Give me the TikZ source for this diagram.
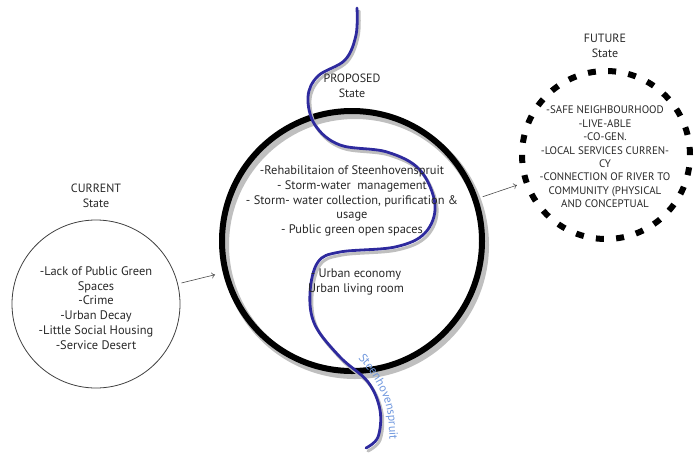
\documentclass[tikz,border=0pt]{standalone}
\usepackage{fontspec}
\setmainfont{PT Sans}
\usetikzlibrary{decorations.text, arrows.meta}
\definecolor{river}{RGB}{46,42,158}
\definecolor{rivertext}{RGB}{112,152,222}
\definecolor{txt}{RGB}{40,40,40}
\begin{document}
\begin{tikzpicture}[x=1pt,y=-1pt,
  statebox/.style={circle, inner sep=0pt, outer sep=0pt},
  titletext/.style={text=txt, font=\fontsize{12}{15}\selectfont, align=center, inner sep=0pt},
  bodytext/.style={text=txt, font=\fontsize{12.4}{14.8}\selectfont, align=center, inner sep=0pt},
  futuretext/.style={text=txt, font=\fontsize{10.9}{13.4}\selectfont, align=center, inner sep=0pt},
  flowarrow/.style={draw=black!70, line width=0.6pt, -{To[length=3.5pt,width=6pt]}},
  riverline/.style={draw=river, line width=2.8pt, line cap=round}
]
\useasboundingbox (0,0) rectangle (696,453);

% current state
\node[statebox, draw=black!75, line width=0.8pt, minimum size=168pt] (current) at (96,304) {};
\node[titletext] (currenttitle) at (96,196) {CURRENT\\State};
\node[bodytext] (currenttext) at (96,308) {-Lack of Public Green\\Spaces\\-Crime\\-Urban Decay\\-Little Social Housing\\-Service Desert};

% proposed state
\draw[black!25, line width=8pt] (355,245) circle (130);
\node[statebox, draw=black, line width=6pt, minimum size=260pt] (proposed) at (352,241) {};

% river
\draw[black!25, line width=3pt, line cap=round] plot[smooth, tension=0.6] coordinates {
  (359,11) (358,37) (347,62) (320,79) (310,100) (317,128) (342,148) (389,155) (422,173) (437,208)
  (427,236) (397,250) (342,255) (320,265) (312,296) (317,328) (342,360) (370,385) (382,413) (380,440) (368,451)};
\draw[riverline] plot[smooth, tension=0.6] coordinates {
  (357,8) (356,35) (345,60) (318,76) (308,97) (315,125) (340,145) (387,152) (420,170) (435,205)
  (425,233) (395,247) (340,252) (318,262) (310,293) (315,325) (340,357) (368,382) (380,410) (378,437) (366,448)};

\node[titletext] (proposedtitle) at (352,86) {PROPOSED\\State};
\node[bodytext] (proposedtext) at (352,201) {-Rehabilitaion of Steenhovenspruit\\- Storm-water\ \ management\\- Storm- water collection, purification \&\\usage\\- Public green open spaces};
\node[bodytext] (urbantext) at (356,282) {- Urban economy\\Urban living room};

\path[decorate, decoration={text along path, text align=center,
  text={|\color{rivertext}\fontsize{12}{12}\selectfont|Steenhovenspruit}}]
  plot[smooth] coordinates {(350,349) (368,370) (381,392) (388,415) (390,452)};

% future state
\node[statebox, draw=black, line width=6pt, dash pattern=on 8pt off 12.3pt, minimum size=168pt] (future) at (606,155) {};
\node[titletext] (futuretitle) at (605,46) {FUTURE\\State};
\node[futuretext] (futurebody) at (605,157) {-SAFE NEIGHBOURHOOD\\-LIVE-ABLE\\-CO-GEN.\\-LOCAL SERVICES CURREN-\\CY\\-CONNECTION OF RIVER TO\\COMMUNITY (PHYSICAL\\AND CONCEPTUAL};

% arrows
\draw[flowarrow, shorten <=4pt, shorten >=11pt] (current) -- (proposed);
\draw[flowarrow, shorten <=8pt, shorten >=10pt] (proposed) -- (future);
\end{tikzpicture}
\end{document}
